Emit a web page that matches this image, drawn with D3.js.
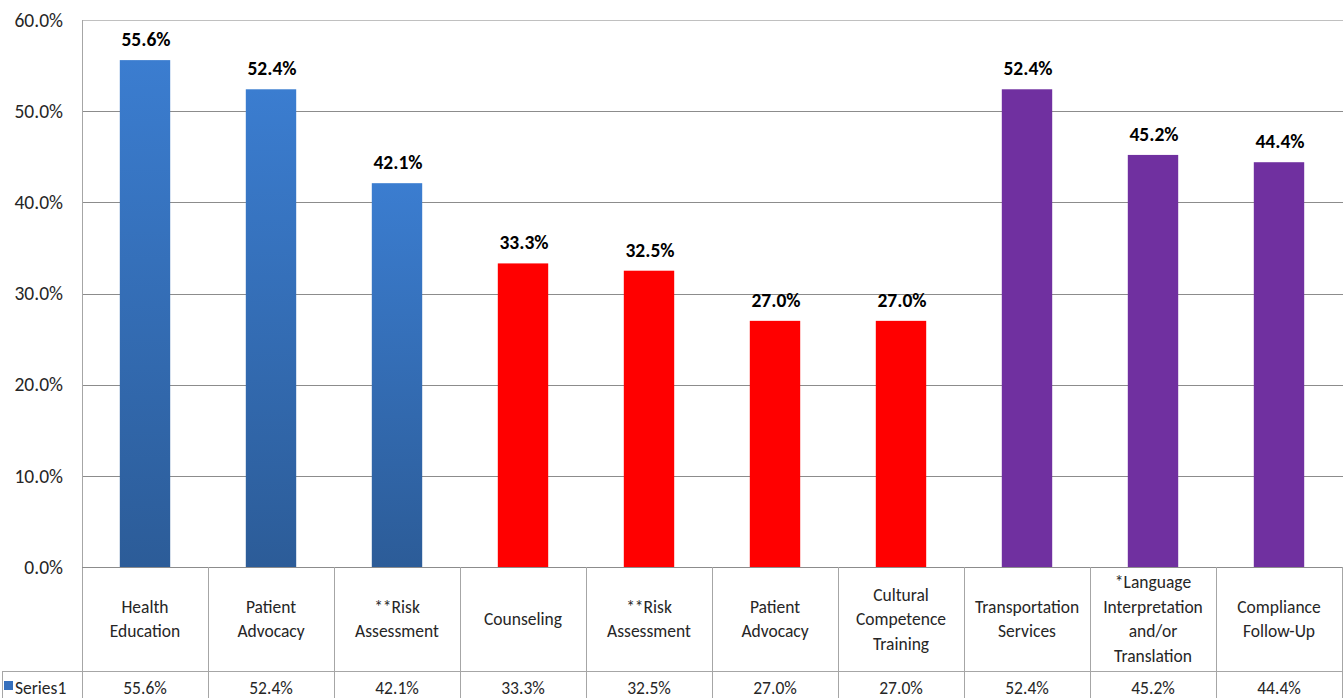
<!DOCTYPE html>
<html>
<head>
<meta charset="utf-8">
<script src="https://cdn.jsdelivr.net/npm/d3@7"></script>
<style>
  html, body { margin: 0; padding: 0; background: #fff; }
  svg { display: block; }
  text { font-family: Carlito, Calibri, Lato, sans-serif; }
</style>
</head>
<body>
<svg id="chart" width="1343" height="698"></svg>
<script>
// ---- data ----
const categories = [
  "Health\nEducation",
  "Patient\nAdvocacy",
  "**Risk\nAssessment",
  "Counseling",
  "**Risk\nAssessment",
  "Patient\nAdvocacy",
  "Cultural\nCompetence\nTraining",
  "Transportation\nServices",
  "*Language\nInterpretation\nand/or\nTranslation",
  "Compliance\nFollow-Up"
];
const values = [55.6, 52.4, 42.1, 33.3, 32.5, 27.0, 27.0, 52.4, 45.2, 44.4];
const groups = ["blue", "blue", "blue", "red", "red", "red", "red", "purple", "purple", "purple"];
const yTicks = [0, 10, 20, 30, 40, 50, 60];
const seriesName = "Series1";

(function () {
// ---- layout ----
const svg = d3.select("#chart");
const pLeft = 82, pRight = 1342, pTop = 20, pBottom = 567;
const catRowBottom = 671, tableBottom = 705;

const x = d3.scaleBand().domain(d3.range(categories.length)).range([pLeft, pRight]).padding(0);
const y = d3.scaleLinear().domain([0, 60]).range([pBottom, pTop]);
const barW = x.bandwidth() * 0.4;
const fmt = v => v.toFixed(1) + "%";

const defs = svg.append("defs");
const grad = defs.append("linearGradient").attr("id", "blueGrad")
  .attr("x1", 0).attr("y1", 0).attr("x2", 0).attr("y2", 1);
grad.append("stop").attr("offset", "0%").attr("stop-color", "#3b7dd0");
grad.append("stop").attr("offset", "100%").attr("stop-color", "#2c5c98");
const fills = { blue: "url(#blueGrad)", red: "#ff0000", purple: "#7030a0" };

// gridlines
svg.append("g").selectAll("line").data(yTicks.filter(t => t > 0 && t < 60)).join("line")
  .attr("x1", pLeft).attr("x2", pRight + 1)
  .attr("y1", d => Math.round(y(d)) + 0.5).attr("y2", d => Math.round(y(d)) + 0.5)
  .attr("stroke", "#8c8c8c").attr("stroke-width", 1);
// top border
svg.append("line").attr("x1", pLeft).attr("x2", pRight + 1)
  .attr("y1", Math.round(y(60)) + 0.5).attr("y2", Math.round(y(60)) + 0.5)
  .attr("stroke", "#c0c0c0");

// y axis labels
const yAxis = d3.axisLeft(y).tickValues(yTicks).tickFormat(fmt).tickSize(0).tickPadding(19);
const yg = svg.append("g").attr("transform", `translate(${pLeft},0)`).call(yAxis);
yg.select(".domain").remove();
yg.selectAll("text").attr("font-size", 19.5).attr("fill", "#262626")
  .style("font-family", "Carlito, Calibri, Lato, sans-serif");

// bars
svg.append("g").selectAll("rect").data(values).join("rect")
  .attr("x", (d, i) => x(i) + (x.bandwidth() - barW) / 2)
  .attr("y", d => y(d))
  .attr("width", barW)
  .attr("height", d => y(0) - y(d))
  .attr("fill", (d, i) => fills[groups[i]]);

// data labels
svg.append("g").selectAll("text").data(values).join("text")
  .attr("x", (d, i) => x(i) + x.bandwidth() / 2 + 1)
  .attr("y", d => y(d) - 14)
  .attr("text-anchor", "middle")
  .attr("font-size", 19.5).attr("font-weight", "bold").attr("fill", "#000")
  .text(fmt);

// left axis line
svg.append("line").attr("x1", pLeft + 0.5).attr("x2", pLeft + 0.5)
  .attr("y1", pTop).attr("y2", tableBottom).attr("stroke", "#a6a6a6");

// table lines
const tbl = svg.append("g").attr("stroke", "#a6a6a6").attr("stroke-width", 1);
tbl.append("line").attr("x1", pLeft).attr("x2", pRight + 1)
  .attr("y1", pBottom + 0.5).attr("y2", pBottom + 0.5).attr("stroke", "#8c8c8c");
tbl.append("line").attr("x1", 2).attr("x2", pRight + 1)
  .attr("y1", catRowBottom + 0.5).attr("y2", catRowBottom + 0.5);
tbl.append("line").attr("x1", 2.5).attr("x2", 2.5)
  .attr("y1", catRowBottom).attr("y2", tableBottom);
tbl.selectAll("line.v").data(d3.range(1, categories.length + 1)).join("line")
  .attr("class", "v")
  .attr("x1", i => Math.round(x(i - 1) + x.bandwidth()) + 0.5)
  .attr("x2", i => Math.round(x(i - 1) + x.bandwidth()) + 0.5)
  .attr("y1", pBottom).attr("y2", tableBottom);

// category labels
const lineH = 24.5;
const cellMid = (pBottom + catRowBottom) / 2;
const catG = svg.append("g").selectAll("text").data(categories).join("text")
  .attr("text-anchor", "middle").attr("font-size", 17.5).attr("fill", "#262626");
catG.each(function (d, i) {
  const lines = d.split("\n");
  const t = d3.select(this);
  const y0 = cellMid - (lines.length - 1) * lineH / 2 + 6;
  lines.forEach((ln, k) => {
    t.append("tspan").attr("x", x(i) + x.bandwidth() / 2).attr("y", y0 + k * lineH).text(ln);
  });
});

// series row values
svg.append("g").selectAll("text").data(values).join("text")
  .attr("x", (d, i) => x(i) + x.bandwidth() / 2)
  .attr("y", 694)
  .attr("text-anchor", "middle").attr("font-size", 17.5).attr("fill", "#262626")
  .text(fmt);

// legend key
svg.append("rect").attr("x", 4).attr("y", 681).attr("width", 9).attr("height", 9).attr("fill", "#3670bd");
svg.append("text").attr("x", 15).attr("y", 694).attr("font-size", 17.5).attr("fill", "#262626").text(seriesName);
})();
</script>
</body>
</html>
